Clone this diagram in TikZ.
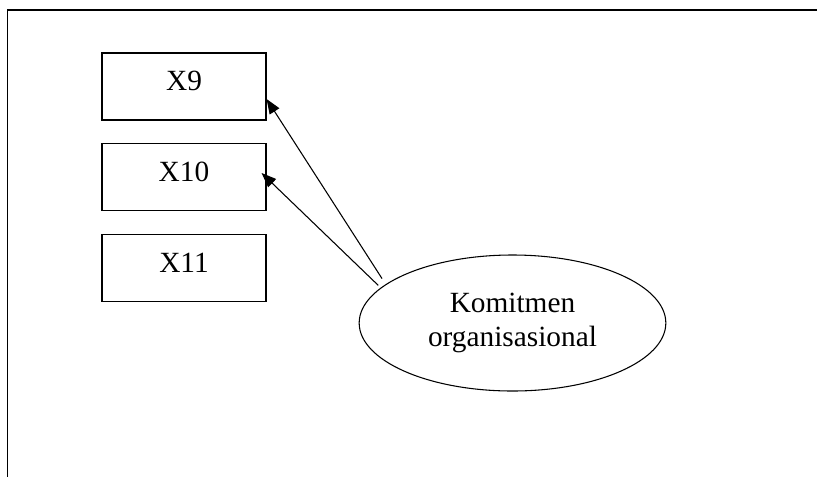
\documentclass[tikz,border=0pt]{standalone}
\usepackage{fontspec}
\setmainfont{Liberation Serif}
\usetikzlibrary{arrows.meta,shapes.geometric}

\begin{document}
\begin{tikzpicture}[x=0.75pt, y=-0.75pt,
  varbox/.style={draw, line width=0.9pt, minimum width=123pt, minimum height=50.25pt,
    inner sep=0pt, text depth=8pt, font=\fontsize{22}{25.5}\selectfont},
  construct/.style={draw, ellipse, line width=0.8pt, minimum width=230pt, minimum height=102pt,
    inner sep=0pt, align=center, font=\fontsize{22}{25.5}\selectfont},
  link/.style={-{Triangle[length=11pt,width=8.5pt]}, line width=0.8pt}]
\clip (0,0) rectangle (817,476);
\draw[line width=1.2pt] (7.5,10) rectangle (900,600);

\node[varbox] (x9)  at (184, 86.5) {X9};
\node[varbox] (x10) at (184,177)   {X10};
\node[varbox] (x11) at (184,268)   {X11};

\node[construct] (komitmen) at (512.5,323) {Komitmen\\organisasional};

\draw[link, shorten <=5pt]   (komitmen.163) -- ([yshift=-9.4pt]x9.east);
\draw[link, shorten <=2.5pt] (komitmen.165) -- ([xshift=-3.75pt,yshift=3pt]x10.east);
\end{tikzpicture}
\end{document}
